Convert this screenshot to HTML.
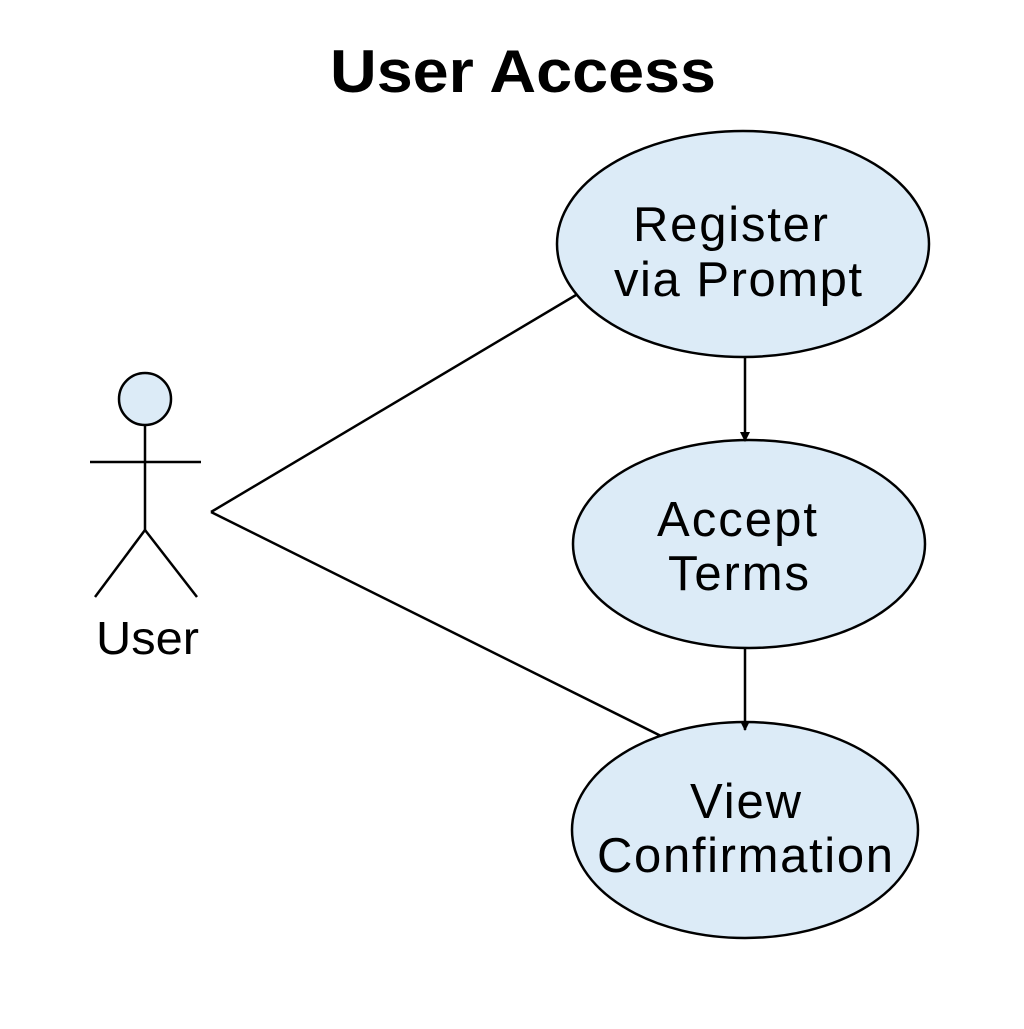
<!DOCTYPE html>
<html><head><style>body{margin:0;background:#fff}</style></head><body>
<svg width="1024" height="1024" xmlns="http://www.w3.org/2000/svg" font-family="Liberation Sans, Arial, sans-serif">
<defs><marker id="a" markerWidth="10" markerHeight="10" refX="9" refY="5" orient="auto" markerUnits="userSpaceOnUse"><path d="M0,0 L10,5 L0,10 z" fill="#000"/></marker></defs>
<rect width="1024" height="1024" fill="#fff"/>
<text x="330" y="92" font-size="60" font-weight="bold" textLength="386" lengthAdjust="spacingAndGlyphs">User Access</text>
<g stroke="#000" stroke-width="2.5" fill="none">
<line x1="211" y1="512" x2="576" y2="295"/>
<line x1="211" y1="512" x2="661" y2="736"/>
</g>
<g stroke="#000" stroke-width="2.5" fill="#dcebf7">
<ellipse cx="743" cy="244" rx="186" ry="113"/>
<ellipse cx="749" cy="544" rx="176" ry="104"/>
<ellipse cx="745" cy="830" rx="173" ry="108"/>
<circle cx="145" cy="399" r="26"/>
</g>
<g stroke="#000" stroke-width="2.5" fill="none">
<line x1="745" y1="358" x2="745" y2="441" marker-end="url(#a)"/>
<line x1="745" y1="649" x2="745" y2="730" marker-end="url(#a)"/>
<line x1="145" y1="425" x2="145" y2="530"/>
<line x1="90" y1="462" x2="201" y2="462"/>
<line x1="145" y1="530" x2="95" y2="597"/>
<line x1="145" y1="530" x2="197" y2="597"/>
</g>
<text x="96" y="654" font-size="46" textLength="103" lengthAdjust="spacingAndGlyphs">User</text>
<g font-size="49" lengthAdjust="spacingAndGlyphs">
<text x="633" y="241" textLength="195">Register</text>
<text x="614" y="296" textLength="248">via Prompt</text>
<text x="657" y="536" textLength="160">Accept</text>
<text x="668" y="590" textLength="141">Terms</text>
<text x="690" y="818" textLength="111">View</text>
<text x="597" y="872" textLength="296">Confirmation</text>
</g>
</svg>
</body></html>
